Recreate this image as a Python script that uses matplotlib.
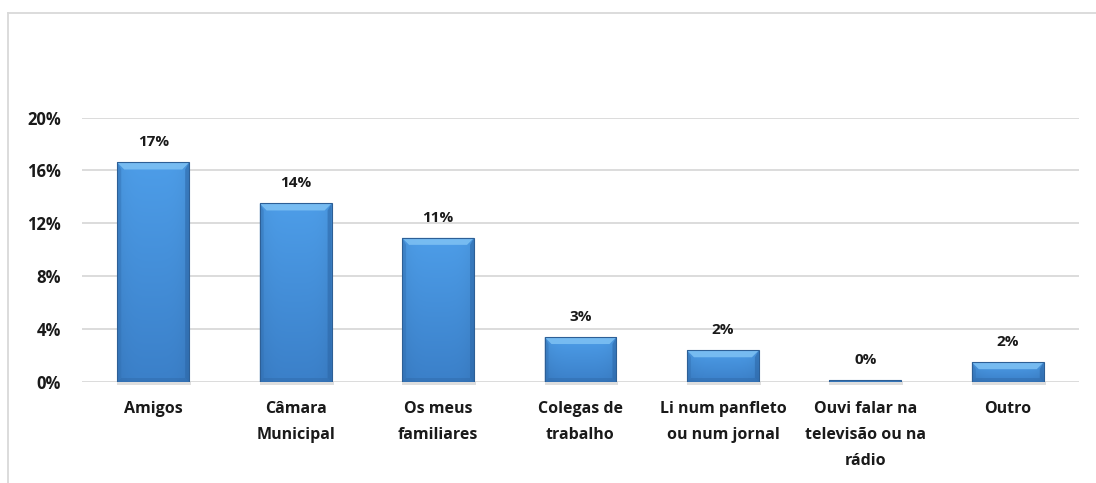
import numpy as np
import matplotlib
matplotlib.use("Agg")
import matplotlib.pyplot as plt
from matplotlib.patches import Polygon
from matplotlib.lines import Line2D
from matplotlib.colors import to_rgb

categories = ["Amigos", "Câmara\nMunicipal", "Os meus\nfamiliares", "Colegas de\ntrabalho",
              "Li num panfleto\nou num jornal", "Ouvi falar na\ntelevisão ou na\nrádio", "Outro"]
values = [0.166, 0.135, 0.109, 0.034, 0.024, 0.0015, 0.015]
yticks = [0.0, 0.04, 0.08, 0.12, 0.16, 0.20]
ytick_labels = ["0%", "4%", "8%", "12%", "16%", "20%"]

plt.rcParams['font.family'] = ['Open Sans', 'DejaVu Sans']

fig = plt.figure(figsize=(10.96, 4.83), dpi=100)
ax = fig.add_axes([0.0748, 0.2091, 0.9097, 0.5476])

x = np.arange(len(categories))
width = 0.505
bars = ax.bar(x, values, width=width, color="none", zorder=3)

ax.set_xlim(-0.5, len(categories) - 0.5)
ax.set_ylim(0, 0.20)

# vertical + horizontal shading for the bar bodies
top_c = np.array(to_rgb("#4d9de8"))
bot_c = np.array(to_rgb("#3b80c9"))
ny, nx = 64, 64
t = np.linspace(0, 1, ny)[:, None, None]        # 0 = bottom, 1 = top
col = bot_c * (1 - t) + top_c * t
col = np.repeat(col, nx, axis=1)
u = np.linspace(-1, 1, nx)[None, :, None]
shade = 1 - 0.06 * np.abs(u) ** 4
grad = np.clip(col * shade, 0, 1)

px_per_y = ax.get_position().height * fig.get_figheight() * fig.dpi / 0.20
px_per_x = ax.get_position().width * fig.get_figwidth() * fig.dpi / len(categories)

for rect, v in zip(bars, values):
    x0, w, h = rect.get_x(), rect.get_width(), rect.get_height()
    # soft shadow beneath the bar
    sh = Polygon([(x0, 0), (x0 + w + 2 / px_per_x, 0),
                  (x0 + w + 2 / px_per_x, -3 / px_per_y), (x0, -3 / px_per_y)],
                 closed=True, facecolor="#d0d0d0", edgecolor="none", alpha=0.7,
                 zorder=2, clip_on=False)
    ax.add_patch(sh)
    im = ax.imshow(grad, extent=(x0, x0 + w, 0, h), origin="lower", aspect="auto",
                   zorder=3, interpolation="bilinear")
    im.set_clip_path(rect)
    bx = 4.0 / px_per_x
    bxt = 7.0 / px_per_x
    byt = min(7.0 / px_per_y, h / 2)
    byb = min(4.0 / px_per_y, h / 2)
    # bevel: light top, slightly darker sides and bottom
    top = Polygon([(x0, h), (x0 + w, h), (x0 + w - bxt, h - byt), (x0 + bxt, h - byt)],
                  closed=True, facecolor="#7fc2f4", edgecolor="none", alpha=0.85, zorder=4)
    left = Polygon([(x0, 0), (x0, h), (x0 + bx, h - byt), (x0 + bx, byb)],
                   closed=True, facecolor="#3270b2", edgecolor="none", alpha=0.45, zorder=4)
    right = Polygon([(x0 + w, 0), (x0 + w, h), (x0 + w - bx, h - byt), (x0 + w - bx, byb)],
                    closed=True, facecolor="#2c66a6", edgecolor="none", alpha=0.55, zorder=4)
    bottom = Polygon([(x0, 0), (x0 + w, 0), (x0 + w - bx, byb), (x0 + bx, byb)],
                     closed=True, facecolor="#2f69a8", edgecolor="none", alpha=0.45, zorder=4)
    for p in (top, left, right, bottom):
        ax.add_patch(p)
    edge = plt.Rectangle((x0, 0), w, h, facecolor="none", edgecolor="#2d5f96",
                         linewidth=0.8, zorder=5)
    ax.add_patch(edge)
    ax.annotate(f"{v:.0%}", (x0 + w / 2, h), xytext=(0, 9.5), textcoords="offset points",
                ha="center", va="bottom", fontsize=11, fontweight="bold", color="#1a1a1a",
                annotation_clip=False, zorder=6)

ax.set_yticks(yticks)
ax.set_yticklabels(ytick_labels, fontsize=12, fontweight="bold")
ax.set_xticks(x)
ax.set_xticklabels(categories, fontsize=11.5, fontweight="bold", linespacing=1.85, va="top")
ax.tick_params(axis="both", length=0, colors="#1a1a1a")
ax.tick_params(axis="y", pad=15)
ax.tick_params(axis="x", pad=13.5)
ax.yaxis.grid(True, color="#d9d9d9", linewidth=1.3, zorder=0)
ax.set_axisbelow(True)
for s in ax.spines.values():
    s.set_visible(False)

# outer chart-area frame
fig.add_artist(Line2D([8 / 1096, 1.0], [1 - 13 / 483, 1 - 13 / 483], color="#d9d9d9",
                      linewidth=1.3, transform=fig.transFigure))
fig.add_artist(Line2D([8 / 1096, 8 / 1096], [0, 1 - 13 / 483], color="#d9d9d9",
                      linewidth=1.3, transform=fig.transFigure))

fig.savefig("out.png", dpi=100, facecolor="white")
